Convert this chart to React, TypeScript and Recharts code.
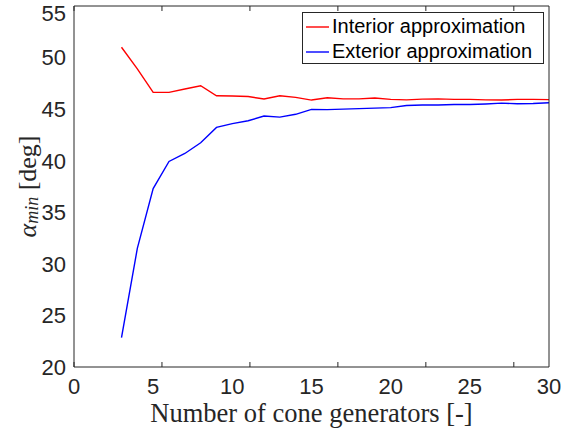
import React from 'react';
import { LineChart, Line, XAxis, YAxis, Legend } from 'recharts';

// number of cone generators
const generators = [
  3, 4, 5, 6, 7, 8, 9, 10, 11, 12, 13, 14, 15, 16, 17, 18, 19, 20, 21, 22, 23,
  24, 25, 26, 27, 28, 29, 30,
];

const interior = [
  51.0, 48.9, 46.63, 46.63, 46.95, 47.27, 46.3, 46.28, 46.22, 45.98, 46.3,
  46.14, 45.88, 46.1, 46.0, 46.0, 46.08, 45.95, 45.9, 45.97, 46.0, 45.95,
  45.95, 45.9, 45.88, 45.95, 45.95, 45.92,
];

const exterior = [
  22.85, 31.5, 37.3, 39.93, 40.7, 41.74, 43.23, 43.6, 43.88, 44.33, 44.23,
  44.5, 44.98, 44.95, 45.0, 45.05, 45.1, 45.15, 45.35, 45.4, 45.4, 45.45,
  45.45, 45.5, 45.58, 45.52, 45.55, 45.62,
];

const xTicks = [0, 5, 10, 15, 20, 25, 30];
const yTicks = [20, 25, 30, 35, 40, 45, 50, 55];

const seriesNames = ['Interior approximation', 'Exterior approximation'];
const seriesColors = ['#ff0000', '#0000ff'];

const data = generators.map((n, i) => ({
  n,
  interior: interior[i],
  exterior: exterior[i],
}));

const AXIS = '#262626';
const SANS = '"Liberation Sans", Arial, Helvetica, sans-serif';
const SERIF = '"Liberation Serif", "Times New Roman", serif';

const noTick = () => <g />;

function YLabel(props: any) {
  const vb = props.viewBox || {};
  const cx = 27;
  const cy = (vb.y ?? 6) + (vb.height ?? 361) / 2;
  return (
    <text
      x={cx}
      y={cy}
      transform={`rotate(-90, ${cx}, ${cy})`}
      textAnchor="middle"
      dominantBaseline="central"
      fill={AXIS}
      fontFamily={SERIF}
      fontSize={26}
    >
      <tspan fontStyle="italic">α</tspan>
      <tspan fontStyle="italic" fontSize={18} dy={5}>
        min
      </tspan>
      <tspan dy={-5}> [deg]</tspan>
    </text>
  );
}

function LegendBox() {
  return (
    <div
      style={{
        width: 240,
        height: 50,
        border: `1px solid ${AXIS}`,
        background: '#fff',
        fontFamily: SANS,
        fontSize: 20,
        color: '#000',
        boxSizing: 'content-box',
      }}
    >
      {seriesNames.map((name, i) => (
        <div
          key={name}
          style={{ display: 'flex', alignItems: 'center', height: 25, marginTop: i === 0 ? 1 : 0 }}
        >
          <svg width={29} height={4} style={{ display: 'block' }}>
            <line x1={3} y1={2} x2={26} y2={2} stroke={seriesColors[i]} strokeWidth={1.4} />
          </svg>
          <span style={{ whiteSpace: 'nowrap' }}>{name}</span>
        </div>
      ))}
    </div>
  );
}

export default function App() {
  return (
    <div style={{ position: 'absolute', left: 0, top: 0, background: '#fff' }}>
      <LineChart
        width={582}
        height={435}
        data={data}
        margin={{ top: 6, right: 33, bottom: 8, left: 24 }}
      >
        {/* main axes with labels */}
        <XAxis
          xAxisId="x"
          dataKey="n"
          type="number"
          domain={[0, 30]}
          ticks={xTicks}
          height={60}
          tickLine={false}
          tickSize={0}
          tickMargin={11}
          axisLine={{ stroke: AXIS }}
          tick={{ fill: AXIS, fontSize: 22, fontFamily: SANS }}
          label={{
            value: 'Number of cone generators [-]',
            position: 'insideBottom',
            offset: 5,
            style: { fill: AXIS, fontFamily: SERIF, fontSize: 26.5 },
          }}
        />
        <YAxis
          yAxisId="y"
          type="number"
          domain={[20, 55]}
          ticks={yTicks}
          width={50}
          tickLine={false}
          tickSize={0}
          tickMargin={8}
          axisLine={{ stroke: AXIS }}
          tick={{ fill: AXIS, fontSize: 22, fontFamily: SANS }}
          label={<YLabel />}
        />
        {/* inward ticks on all four sides */}
        <XAxis
          xAxisId="xb"
          type="number"
          domain={[0, 30]}
          ticks={xTicks}
          height={1}
          mirror
          tick={noTick}
          tickSize={5}
          tickLine={{ stroke: AXIS }}
          axisLine={false}
        />
        <XAxis
          xAxisId="xt"
          orientation="top"
          type="number"
          domain={[0, 30]}
          ticks={xTicks}
          height={1}
          mirror
          tick={noTick}
          tickSize={5}
          tickLine={{ stroke: AXIS }}
          axisLine={{ stroke: AXIS }}
        />
        <YAxis
          yAxisId="yl"
          type="number"
          domain={[20, 55]}
          ticks={yTicks}
          width={1}
          mirror
          tick={noTick}
          tickSize={5}
          tickLine={{ stroke: AXIS }}
          axisLine={false}
        />
        <YAxis
          yAxisId="yr"
          orientation="right"
          type="number"
          domain={[20, 55]}
          ticks={yTicks}
          width={1}
          mirror
          tick={noTick}
          tickSize={5}
          tickLine={{ stroke: AXIS }}
          axisLine={{ stroke: AXIS }}
        />
        <Legend
          layout="vertical"
          align="center"
          verticalAlign="middle"
          content={() => <LegendBox />}
          wrapperStyle={{ left: 302, top: 12, width: 242, height: 52 }}
        />
        <Line
          xAxisId="x"
          yAxisId="y"
          dataKey="interior"
          name={seriesNames[0]}
          stroke={seriesColors[0]}
          strokeWidth={1.4}
          dot={false}
          activeDot={false}
          isAnimationActive={false}
        />
        <Line
          xAxisId="x"
          yAxisId="y"
          dataKey="exterior"
          name={seriesNames[1]}
          stroke={seriesColors[1]}
          strokeWidth={1.4}
          dot={false}
          activeDot={false}
          isAnimationActive={false}
        />
      </LineChart>
    </div>
  );
}
